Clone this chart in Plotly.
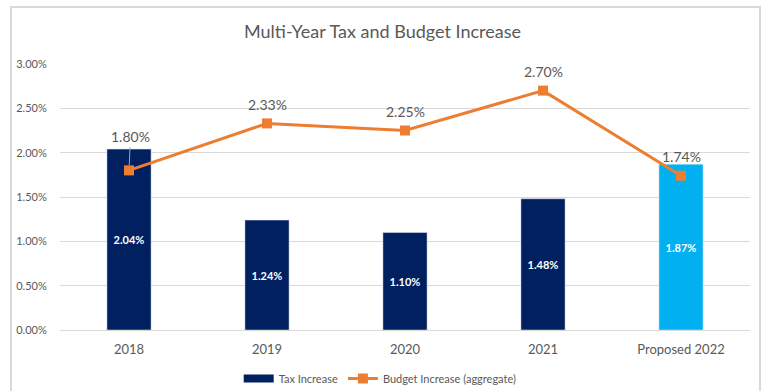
import plotly.graph_objects as go

categories = ["2018", "2019", "2020", "2021", "Proposed 2022"]
tax_increase = [2.04, 1.24, 1.10, 1.48, 1.87]
budget_increase = [1.80, 2.33, 2.25, 2.70, 1.74]
bar_colors = ["#002060", "#002060", "#002060", "#002060", "#00B0F0"]
y_ticks = [0.0, 0.5, 1.0, 1.5, 2.0, 2.5, 3.0]
y_tick_labels = ["0.00%", "0.50%", "1.00%", "1.50%", "2.00%", "2.50%", "3.00%"]

FONT = "Lato, 'Open Sans', sans-serif"
GRAY = "#595959"
NAVY = "#002060"
ORANGE = "#ED7D31"

fig = go.Figure()

fig.add_trace(go.Bar(
    x=categories,
    y=tax_increase,
    name="Tax Increase",
    marker=dict(color=bar_colors),
    width=0.32,
    text=[f"<b>{v:.2f}%</b>" for v in tax_increase],
    textposition="inside",
    insidetextanchor="middle",
    textfont=dict(family=FONT, size=11, color="white"),
    showlegend=False,
    hoverinfo="skip",
))

# Legend entry for the bars, drawn as a wide flat swatch
fig.add_trace(go.Scatter(
    x=[None], y=[None], mode="lines", name="Tax Increase",
    line=dict(color=NAVY, width=8),
    hoverinfo="skip",
))

fig.add_trace(go.Scatter(
    x=categories,
    y=budget_increase,
    name="Budget Increase (aggregate)",
    mode="lines+markers",
    line=dict(color=ORANGE, width=3),
    marker=dict(symbol="square", size=10, color=ORANGE),
    hoverinfo="skip",
))

# Value labels above the line markers; the first one sits higher with a leader line
for i, v in enumerate(budget_increase):
    if i == 0:
        fig.add_annotation(
            x=i, y=v, text=f"{v:.2f}%", showarrow=True, arrowhead=0,
            arrowwidth=1, arrowcolor="#A6A6A6", ax=1, ay=-23, standoff=5,
            yanchor="bottom",
            font=dict(family=FONT, size=14, color=GRAY),
        )
    else:
        fig.add_annotation(
            x=i, y=v, text=f"{v:.2f}%", showarrow=False,
            yshift=19, font=dict(family=FONT, size=14, color=GRAY),
        )

# Outer chart frame
fig.add_shape(
    type="rect", xref="paper", yref="paper",
    x0=-0.071, x1=1.0145, y0=-0.26, y1=1.214,
    line=dict(color="#D9D9D9", width=2), layer="below",
)

fig.update_layout(
    width=765, height=391,
    margin=dict(l=60, r=15, t=64, b=61, autoexpand=False),
    paper_bgcolor="white", plot_bgcolor="white",
    title=dict(
        text="Multi-Year Tax and Budget Increase",
        x=0.5, xref="container", xanchor="center",
        y=1 - 32 / 391, yanchor="middle",
        font=dict(family=FONT, size=18, color=GRAY),
    ),
    font=dict(family=FONT, color=GRAY),
    showlegend=True,
    legend=dict(
        orientation="h", x=0.497, xref="container", xanchor="center",
        y=-0.128, yanchor="top",
        font=dict(family=FONT, size=11, color=GRAY),
        itemwidth=30,
    ),
)

fig.update_xaxes(
    type="category",
    categoryorder="array", categoryarray=categories,
    range=[-0.5, len(categories) - 0.5],
    showgrid=False, showline=True, linecolor="#D9D9D9", linewidth=1,
    ticks="outside", ticklen=7, tickcolor="white",
    tickfont=dict(family=FONT, size=13, color=GRAY),
)
fig.update_yaxes(
    range=[0, 3.0], tickvals=y_ticks, ticktext=y_tick_labels,
    showgrid=True, gridcolor="#D9D9D9", gridwidth=1,
    zeroline=False, showline=False,
    ticks="outside", ticklen=10, tickcolor="white",
    tickfont=dict(family=FONT, size=11, color=GRAY),
)

fig.write_html("out.html")
